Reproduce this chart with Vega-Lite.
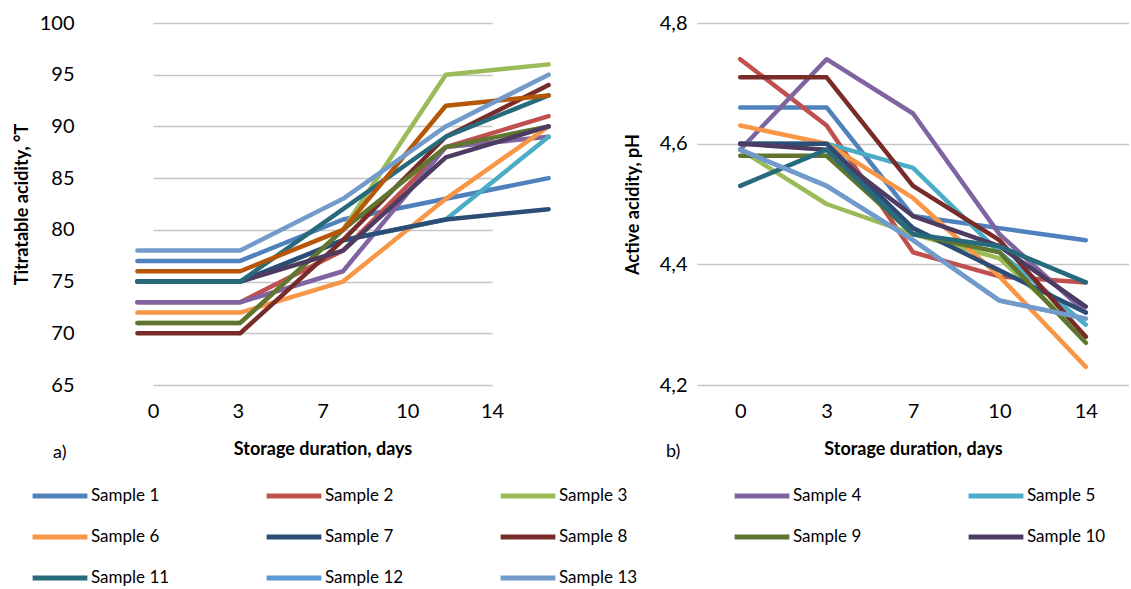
{
  "$schema": "https://vega.github.io/schema/vega-lite/v6.json",
  "padding": {"left": 13, "top": 13, "right": 0, "bottom": 0},
  "bounds": "flush",
  "spacing": 97,
  "config": {
    "font": "Lato",
    "view": {"stroke": null},
    "axis": {
      "domain": false, "ticks": false,
      "labelColor": "#000", "titleColor": "#000",
      "labelFont": "Lato", "labelFontSize": 20,
      "titleFont": "Lato", "titleFontSize": 18, "titleFontWeight": "bold",
      "gridColor": "#C6C6C6", "gridWidth": 1.5
    },
    "title": {"fontSize": 18, "fontWeight": "normal", "color": "#000", "font": "Lato"}
  },
  "datasets": {
    "ta": [
      {"sample": "Sample 1", "day": 0, "value": 77}, {"sample": "Sample 1", "day": 3, "value": 77}, {"sample": "Sample 1", "day": 7, "value": 81}, {"sample": "Sample 1", "day": 10, "value": 83}, {"sample": "Sample 1", "day": 14, "value": 85},
      {"sample": "Sample 2", "day": 0, "value": 73}, {"sample": "Sample 2", "day": 3, "value": 73}, {"sample": "Sample 2", "day": 7, "value": 78}, {"sample": "Sample 2", "day": 10, "value": 88}, {"sample": "Sample 2", "day": 14, "value": 91},
      {"sample": "Sample 3", "day": 0, "value": 71}, {"sample": "Sample 3", "day": 3, "value": 71}, {"sample": "Sample 3", "day": 7, "value": 80}, {"sample": "Sample 3", "day": 10, "value": 95}, {"sample": "Sample 3", "day": 14, "value": 96},
      {"sample": "Sample 4", "day": 0, "value": 73}, {"sample": "Sample 4", "day": 3, "value": 73}, {"sample": "Sample 4", "day": 7, "value": 76}, {"sample": "Sample 4", "day": 10, "value": 88}, {"sample": "Sample 4", "day": 14, "value": 89},
      {"sample": "Sample 5", "day": 0, "value": 75}, {"sample": "Sample 5", "day": 3, "value": 75}, {"sample": "Sample 5", "day": 7, "value": 79}, {"sample": "Sample 5", "day": 10, "value": 81}, {"sample": "Sample 5", "day": 14, "value": 89},
      {"sample": "Sample 6", "day": 0, "value": 72}, {"sample": "Sample 6", "day": 3, "value": 72}, {"sample": "Sample 6", "day": 7, "value": 75}, {"sample": "Sample 6", "day": 10, "value": 83}, {"sample": "Sample 6", "day": 14, "value": 90},
      {"sample": "Sample 7", "day": 0, "value": 75}, {"sample": "Sample 7", "day": 3, "value": 75}, {"sample": "Sample 7", "day": 7, "value": 79}, {"sample": "Sample 7", "day": 10, "value": 81}, {"sample": "Sample 7", "day": 14, "value": 82},
      {"sample": "Sample 8", "day": 0, "value": 70}, {"sample": "Sample 8", "day": 3, "value": 70}, {"sample": "Sample 8", "day": 7, "value": 79}, {"sample": "Sample 8", "day": 10, "value": 89}, {"sample": "Sample 8", "day": 14, "value": 94},
      {"sample": "Sample 9", "day": 0, "value": 71}, {"sample": "Sample 9", "day": 3, "value": 71}, {"sample": "Sample 9", "day": 7, "value": 80}, {"sample": "Sample 9", "day": 10, "value": 88}, {"sample": "Sample 9", "day": 14, "value": 90},
      {"sample": "Sample 10", "day": 0, "value": 75}, {"sample": "Sample 10", "day": 3, "value": 75}, {"sample": "Sample 10", "day": 7, "value": 78}, {"sample": "Sample 10", "day": 10, "value": 87}, {"sample": "Sample 10", "day": 14, "value": 90},
      {"sample": "Sample 11", "day": 0, "value": 75}, {"sample": "Sample 11", "day": 3, "value": 75}, {"sample": "Sample 11", "day": 7, "value": 82}, {"sample": "Sample 11", "day": 10, "value": 89}, {"sample": "Sample 11", "day": 14, "value": 93},
      {"sample": "Sample 12", "day": 0, "value": 76}, {"sample": "Sample 12", "day": 3, "value": 76}, {"sample": "Sample 12", "day": 7, "value": 80}, {"sample": "Sample 12", "day": 10, "value": 92}, {"sample": "Sample 12", "day": 14, "value": 93},
      {"sample": "Sample 13", "day": 0, "value": 78}, {"sample": "Sample 13", "day": 3, "value": 78}, {"sample": "Sample 13", "day": 7, "value": 83}, {"sample": "Sample 13", "day": 10, "value": 90}, {"sample": "Sample 13", "day": 14, "value": 95}
    ],
    "ph": [
      {"sample": "Sample 1", "day": 0, "value": 4.66}, {"sample": "Sample 1", "day": 3, "value": 4.66}, {"sample": "Sample 1", "day": 7, "value": 4.48}, {"sample": "Sample 1", "day": 10, "value": 4.46}, {"sample": "Sample 1", "day": 14, "value": 4.44},
      {"sample": "Sample 2", "day": 0, "value": 4.74}, {"sample": "Sample 2", "day": 3, "value": 4.63}, {"sample": "Sample 2", "day": 7, "value": 4.42}, {"sample": "Sample 2", "day": 10, "value": 4.38}, {"sample": "Sample 2", "day": 14, "value": 4.37},
      {"sample": "Sample 3", "day": 0, "value": 4.59}, {"sample": "Sample 3", "day": 3, "value": 4.50}, {"sample": "Sample 3", "day": 7, "value": 4.45}, {"sample": "Sample 3", "day": 10, "value": 4.41}, {"sample": "Sample 3", "day": 14, "value": 4.28},
      {"sample": "Sample 4", "day": 0, "value": 4.59}, {"sample": "Sample 4", "day": 3, "value": 4.74}, {"sample": "Sample 4", "day": 7, "value": 4.65}, {"sample": "Sample 4", "day": 10, "value": 4.45}, {"sample": "Sample 4", "day": 14, "value": 4.32},
      {"sample": "Sample 5", "day": 0, "value": 4.60}, {"sample": "Sample 5", "day": 3, "value": 4.60}, {"sample": "Sample 5", "day": 7, "value": 4.56}, {"sample": "Sample 5", "day": 10, "value": 4.42}, {"sample": "Sample 5", "day": 14, "value": 4.30},
      {"sample": "Sample 6", "day": 0, "value": 4.63}, {"sample": "Sample 6", "day": 3, "value": 4.60}, {"sample": "Sample 6", "day": 7, "value": 4.51}, {"sample": "Sample 6", "day": 10, "value": 4.38}, {"sample": "Sample 6", "day": 14, "value": 4.23},
      {"sample": "Sample 7", "day": 0, "value": 4.60}, {"sample": "Sample 7", "day": 3, "value": 4.60}, {"sample": "Sample 7", "day": 7, "value": 4.46}, {"sample": "Sample 7", "day": 10, "value": 4.39}, {"sample": "Sample 7", "day": 14, "value": 4.32},
      {"sample": "Sample 8", "day": 0, "value": 4.71}, {"sample": "Sample 8", "day": 3, "value": 4.71}, {"sample": "Sample 8", "day": 7, "value": 4.53}, {"sample": "Sample 8", "day": 10, "value": 4.44}, {"sample": "Sample 8", "day": 14, "value": 4.28},
      {"sample": "Sample 9", "day": 0, "value": 4.58}, {"sample": "Sample 9", "day": 3, "value": 4.58}, {"sample": "Sample 9", "day": 7, "value": 4.45}, {"sample": "Sample 9", "day": 10, "value": 4.42}, {"sample": "Sample 9", "day": 14, "value": 4.27},
      {"sample": "Sample 10", "day": 0, "value": 4.60}, {"sample": "Sample 10", "day": 3, "value": 4.59}, {"sample": "Sample 10", "day": 7, "value": 4.48}, {"sample": "Sample 10", "day": 10, "value": 4.43}, {"sample": "Sample 10", "day": 14, "value": 4.33},
      {"sample": "Sample 11", "day": 0, "value": 4.53}, {"sample": "Sample 11", "day": 3, "value": 4.59}, {"sample": "Sample 11", "day": 7, "value": 4.45}, {"sample": "Sample 11", "day": 10, "value": 4.43}, {"sample": "Sample 11", "day": 14, "value": 4.37},
      {"sample": "Sample 12", "day": 0, "value": 4.59}, {"sample": "Sample 12", "day": 3, "value": 4.53}, {"sample": "Sample 12", "day": 7, "value": 4.44}, {"sample": "Sample 12", "day": 10, "value": 4.34}, {"sample": "Sample 12", "day": 14, "value": 4.31},
      {"sample": "Sample 13", "day": 0, "value": 4.59}, {"sample": "Sample 13", "day": 3, "value": 4.53}, {"sample": "Sample 13", "day": 7, "value": 4.44}, {"sample": "Sample 13", "day": 10, "value": 4.34}, {"sample": "Sample 13", "day": 14, "value": 4.31}
    ]
  },
  "resolve": {"scale": {"color": "independent"}},
  "hconcat": [
    {
      "width": 514,
      "height": 362,
      "data": {"name": "ta"},
      "title": {"text": "a)", "orient": "bottom", "anchor": "start", "frame": "group", "dx": -33, "offset": -14},
      "resolve": {"scale": {"x": "independent"}},
      "layer": [
        {
          "mark": {"type": "point", "opacity": 0},
          "encoding": {
            "x": {"field": "day", "type": "ordinal", "scale": {"type": "point", "range": [67, 406], "padding": 0},
                  "axis": {"orient": "bottom", "title": "Storage duration, days", "labelAngle": 0, "grid": false, "labelPadding": 16, "titlePadding": 19}},
            "y": {"field": "value", "type": "quantitative", "scale": {"domain": [65, 100], "nice": false, "zero": false},
                  "axis": {"title": "Titratable acidity, °T", "values": [65, 70, 75, 80, 85, 90, 95, 100], "grid": true, "labelPadding": 12, "titlePadding": 8}}
          }
        },
        {
          "mark": {"type": "line", "strokeWidth": 4.5, "strokeCap": "round", "strokeJoin": "round"},
          "encoding": {
            "x": {"field": "day", "type": "ordinal", "scale": {"type": "point", "padding": 0.5}, "axis": null},
            "y": {"field": "value", "type": "quantitative"},
            "color": {"field": "sample", "type": "nominal", "legend": null,
              "scale": {"domain": ["Sample 1", "Sample 2", "Sample 3", "Sample 4", "Sample 5", "Sample 6", "Sample 7", "Sample 8", "Sample 9", "Sample 10", "Sample 11", "Sample 12", "Sample 13"],
                        "range": ["#4F81BD", "#C0504D", "#9BBB59", "#8064A2", "#4BACC6", "#F79646", "#2C4D75", "#772C2A", "#5F7530", "#4D3B62", "#276A7C", "#B65708", "#729ACA"]}}
          }
        }
      ]
    },
    {
      "width": 432,
      "height": 362,
      "data": {"name": "ph"},
      "title": {"text": "b)", "orient": "bottom", "anchor": "start", "frame": "group", "dx": -31, "offset": -145},
      "mark": {"type": "line", "strokeWidth": 4.5, "strokeCap": "round", "strokeJoin": "round"},
      "encoding": {
        "x": {"field": "day", "type": "ordinal", "scale": {"type": "point", "padding": 0.5},
              "axis": {"title": "Storage duration, days", "labelAngle": 0, "grid": false, "labelPadding": 16, "titlePadding": 19}},
        "y": {"field": "value", "type": "quantitative", "scale": {"domain": [4.2, 4.8], "nice": false, "zero": false},
              "axis": {"title": "Active acidity, pH", "values": [4.2, 4.4, 4.6, 4.8], "grid": true, "labelPadding": 10, "titlePadding": 17,
                       "labelExpr": "replace(format(datum.value, '.1f'), '.', ',')"}},
        "color": {"field": "sample", "type": "nominal",
          "scale": {"domain": ["Sample 1", "Sample 2", "Sample 3", "Sample 4", "Sample 5", "Sample 6", "Sample 7", "Sample 8", "Sample 9", "Sample 10", "Sample 11", "Sample 12", "Sample 13"],
                    "range": ["#4F81BD", "#C0504D", "#9BBB59", "#8064A2", "#4BACC6", "#F79646", "#2C4D75", "#772C2A", "#5F7530", "#4D3B62", "#276A7C", "#5B9BD5", "#729ACA"]},
          "legend": {"orient": "none", "direction": "horizontal", "legendX": -667, "legendY": 463, "columns": 5, "title": null,
                     "symbolType": "stroke", "symbolSize": 3000, "symbolStrokeWidth": 5, "clipHeight": 20,
                     "labelFont": "Lato", "labelFontSize": 17, "labelColor": "#000", "labelOffset": 1,
                     "columnPadding": 94, "rowPadding": 21, "gridAlign": "all"}}
      }
    }
  ]
}
